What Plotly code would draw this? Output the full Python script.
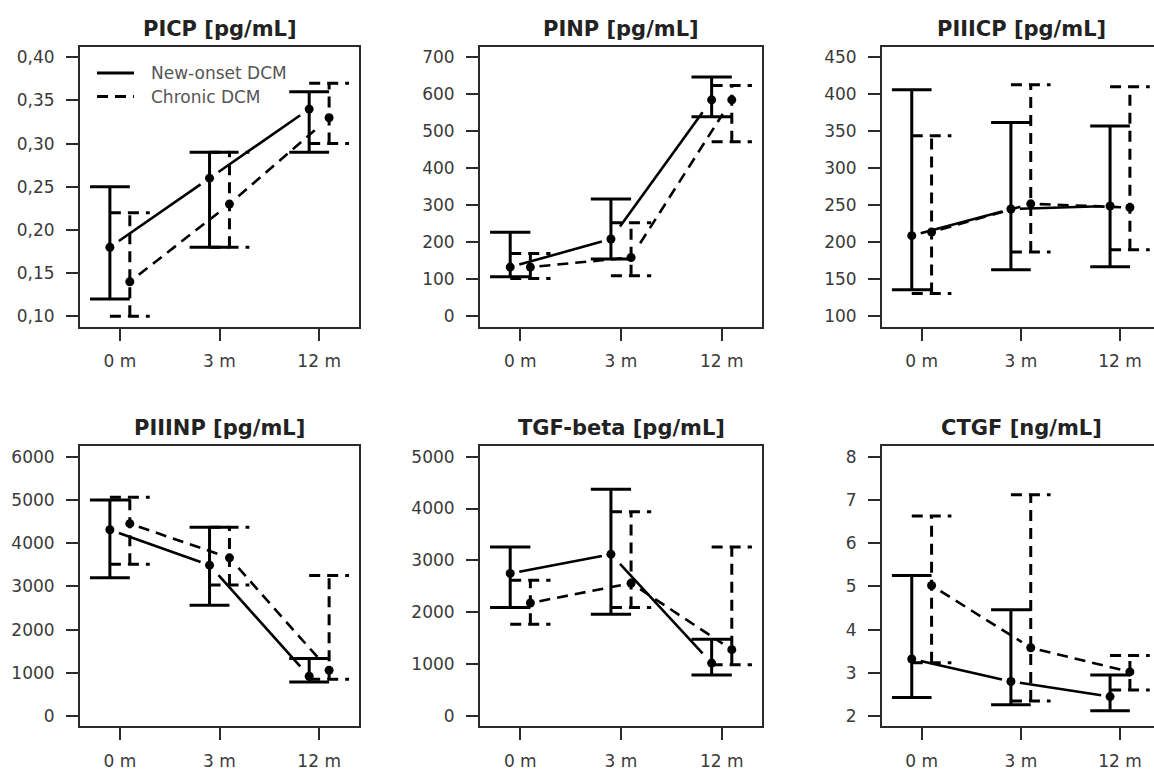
import plotly.graph_objects as go

W, H = 1154, 773

TIMEPOINTS = ["0 m", "3 m", "12 m"]
GROUPS = ["New-onset DCM", "Chronic DCM"]

# ---- PICP [pg/mL] ----
PICP_NEW = [0.18, 0.26, 0.34]
PICP_NEW_LO = [0.12, 0.18, 0.29]
PICP_NEW_HI = [0.25, 0.29, 0.36]
PICP_CHR = [0.14, 0.23, 0.33]
PICP_CHR_LO = [0.10, 0.18, 0.30]
PICP_CHR_HI = [0.22, 0.29, 0.37]
PICP_TICKS = [0.10, 0.15, 0.20, 0.25, 0.30, 0.35, 0.40]
PICP_TICK_TEXT = ["0,10", "0,15", "0,20", "0,25", "0,30", "0,35", "0,40"]

# ---- PINP [pg/mL] ----
PINP_NEW = [133, 209, 585]
PINP_NEW_LO = [107, 155, 539]
PINP_NEW_HI = [227, 317, 647]
PINP_CHR = [133, 159, 585]
PINP_CHR_LO = [102, 110, 472]
PINP_CHR_HI = [170, 253, 624]
PINP_TICKS = [0, 100, 200, 300, 400, 500, 600, 700]

# ---- PIIICP [pg/mL] ----
PIIICP_NEW = [209, 245, 249]
PIIICP_NEW_LO = [136, 163, 167]
PIIICP_NEW_HI = [406, 362, 357]
PIIICP_CHR = [214, 252, 247]
PIIICP_CHR_LO = [131, 187, 190]
PIIICP_CHR_HI = [344, 413, 410]
PIIICP_TICKS = [100, 150, 200, 250, 300, 350, 400, 450]

# ---- PIIINP [pg/mL] ----
PIIINP_NEW = [4310, 3490, 920]
PIIINP_NEW_LO = [3200, 2560, 790]
PIIINP_NEW_HI = [5000, 4370, 1330]
PIIINP_CHR = [4450, 3660, 1060]
PIIINP_CHR_LO = [3510, 3030, 850]
PIIINP_CHR_HI = [5060, 4370, 3250]
PIIINP_TICKS = [0, 1000, 2000, 3000, 4000, 5000, 6000]

# ---- TGF-beta [pg/mL] ----
TGFB_NEW = [2750, 3120, 1020]
TGFB_NEW_LO = [2090, 1960, 790]
TGFB_NEW_HI = [3260, 4370, 1480]
TGFB_CHR = [2180, 2560, 1280]
TGFB_CHR_LO = [1770, 2090, 990]
TGFB_CHR_HI = [2620, 3940, 3260]
TGFB_TICKS = [0, 1000, 2000, 3000, 4000, 5000]

# ---- CTGF [ng/mL] ----
CTGF_NEW = [3.32, 2.80, 2.45]
CTGF_NEW_LO = [2.43, 2.26, 2.12]
CTGF_NEW_HI = [5.25, 4.46, 2.95]
CTGF_CHR = [5.02, 3.58, 3.02]
CTGF_CHR_LO = [3.23, 2.35, 2.60]
CTGF_CHR_HI = [6.63, 7.12, 3.40]
CTGF_TICKS = [2, 3, 4, 5, 6, 7, 8]

panels = [
    ("PICP [pg/mL]", PICP_TICKS, PICP_TICK_TEXT,
     (PICP_NEW, PICP_NEW_LO, PICP_NEW_HI), (PICP_CHR, PICP_CHR_LO, PICP_CHR_HI)),
    ("PINP [pg/mL]", PINP_TICKS, [str(v) for v in PINP_TICKS],
     (PINP_NEW, PINP_NEW_LO, PINP_NEW_HI), (PINP_CHR, PINP_CHR_LO, PINP_CHR_HI)),
    ("PIIICP [pg/mL]", PIIICP_TICKS, [str(v) for v in PIIICP_TICKS],
     (PIIICP_NEW, PIIICP_NEW_LO, PIIICP_NEW_HI), (PIIICP_CHR, PIIICP_CHR_LO, PIIICP_CHR_HI)),
    ("PIIINP [pg/mL]", PIIINP_TICKS, [str(v) for v in PIIINP_TICKS],
     (PIIINP_NEW, PIIINP_NEW_LO, PIIINP_NEW_HI), (PIIINP_CHR, PIIINP_CHR_LO, PIIINP_CHR_HI)),
    ("TGF-beta [pg/mL]", TGFB_TICKS, [str(v) for v in TGFB_TICKS],
     (TGFB_NEW, TGFB_NEW_LO, TGFB_NEW_HI), (TGFB_CHR, TGFB_CHR_LO, TGFB_CHR_HI)),
    ("CTGF [ng/mL]", CTGF_TICKS, [str(v) for v in CTGF_TICKS],
     (CTGF_NEW, CTGF_NEW_LO, CTGF_NEW_HI), (CTGF_CHR, CTGF_CHR_LO, CTGF_CHR_HI)),
]

FONT = "DejaVu Sans"
INK = "black"
FRAME = "#2b2b2b"
DASH = "11px,7px"
OFFSETS = [-0.1, 0.1]      # side-by-side placement of the two groups
CAP = 0.2                  # half-width of the whisker caps (x units)
GAP = 0.09                 # fraction of each connector left open near the points


def px(x):
    return x / W


def py(y):
    return 1 - y / H


# plot-area boxes in pixels: (left, right) per column, (top, bottom) per row
COLS = [(80, 359), (480, 762), (882, 1154)]
ROWS = [(46.9, 326.7), (446.3, 726.4)]
XRANGES = [[0.6, 3.4], [0.6, 3.4], [0.6, 3.343]]
TITLE_CENTERS = [219.5, 621, 1021]

fig = go.Figure()

for k, (title, ticks, ticktext, new, chronic) in enumerate(panels):
    r, c = divmod(k, 3)
    ax = "" if k == 0 else str(k + 1)
    xref, yref = "x" + ax, "y" + ax

    for g, (series, dash) in enumerate([(new, None), (chronic, DASH)]):
        mean, lo, hi = series
        xs = [i + 1 + OFFSETS[g] for i in range(len(TIMEPOINTS))]

        # whiskers with caps
        ex, ey = [], []
        for x, l, h in zip(xs, lo, hi):
            ex += [x, x, None, x - CAP, x + CAP, None, x - CAP, x + CAP, None]
            ey += [l, h, None, h, h, None, l, l, None]
        fig.add_trace(go.Scatter(
            x=ex, y=ey, mode="lines", xaxis=xref, yaxis=yref,
            line=dict(color=INK, width=3, dash=dash), showlegend=False,
            hoverinfo="skip"))

        # connectors between consecutive time points, open near each point
        cx, cy = [], []
        for i in range(len(xs) - 1):
            x0, y0, x1, y1 = xs[i], mean[i], xs[i + 1], mean[i + 1]
            cx += [x0 + GAP * (x1 - x0), x1 - GAP * (x1 - x0), None]
            cy += [y0 + GAP * (y1 - y0), y1 - GAP * (y1 - y0), None]
        fig.add_trace(go.Scatter(
            x=cx, y=cy, mode="lines", xaxis=xref, yaxis=yref,
            line=dict(color=INK, width=2.6, dash=dash), showlegend=False,
            hoverinfo="skip"))

        # group means
        fig.add_trace(go.Scatter(
            x=xs, y=mean, mode="markers", xaxis=xref, yaxis=yref,
            marker=dict(color=INK, size=9, symbol="circle"),
            name=GROUPS[g], showlegend=False))

    lo_t, hi_t = ticks[0], ticks[-1]
    pad = 0.04 * (hi_t - lo_t)
    left, right = COLS[c]
    top, bottom = ROWS[r]

    fig.layout["xaxis" + ax] = dict(
        domain=[px(left), px(right)], anchor=yref, range=XRANGES[c],
        tickmode="array", tickvals=[1, 2, 3], ticktext=TIMEPOINTS,
        ticks="outside", ticklen=12, tickwidth=2, tickcolor=FRAME,
        showline=True, linecolor=FRAME, linewidth=2, mirror=True,
        showgrid=False, zeroline=False, ticklabelstandoff=6,
        tickfont=dict(family=FONT, size=17, color="#3a3a3a"), fixedrange=True)
    fig.layout["yaxis" + ax] = dict(
        domain=[py(bottom), py(top)], anchor=xref,
        range=[lo_t - pad, hi_t + pad],
        tickmode="array", tickvals=ticks, ticktext=ticktext,
        ticks="outside", ticklen=12, tickwidth=2, tickcolor=FRAME,
        showline=True, linecolor=FRAME, linewidth=2, mirror=(c < 2),
        showgrid=False, zeroline=False, ticklabelstandoff=8,
        tickfont=dict(family=FONT, size=17, color="#3a3a3a"), fixedrange=True)

    fig.add_annotation(
        text="<b>%s</b>" % title, xref="paper", yref="paper",
        x=px(TITLE_CENTERS[c]), y=py(top - 18),
        xanchor="center", yanchor="middle", showarrow=False,
        font=dict(family=FONT, size=21, color="#222222"))

# key for the two groups, drawn inside the first panel
for j, (label, dash) in enumerate([(GROUPS[0], "solid"), (GROUPS[1], DASH)]):
    yk = 73 + 23.5 * j
    fig.add_shape(type="line", xref="paper", yref="paper",
                  x0=px(97), x1=px(134), y0=py(yk), y1=py(yk),
                  line=dict(color=INK, width=3, dash=dash))
    fig.add_annotation(text=label, xref="paper", yref="paper",
                       x=px(149), y=py(yk), xanchor="left", yanchor="middle",
                       showarrow=False,
                       font=dict(family=FONT, size=17, color="#555555"))

fig.update_layout(
    width=W, height=H, margin=dict(l=0, r=0, t=0, b=0),
    paper_bgcolor="white", plot_bgcolor="white",
    font=dict(family=FONT, color="#333333"), showlegend=False)

fig.write_html("out.html")
